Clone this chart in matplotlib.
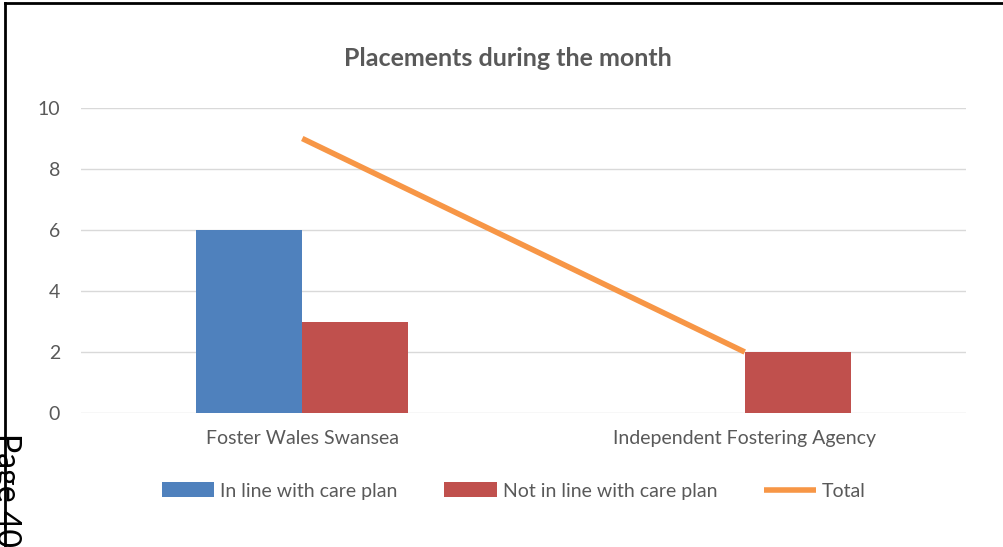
import matplotlib
matplotlib.use("Agg")
import matplotlib.pyplot as plt
from matplotlib.lines import Line2D
import numpy as np

categories = ["Foster Wales Swansea", "Independent Fostering Agency"]
in_line = [6, 0]
not_in_line = [3, 2]
total = [9, 2]
yticks = [0, 2, 4, 6, 8, 10]

plt.rcParams['font.family'] = ['Lato', 'DejaVu Sans']
W, H = 1004, 547
fig = plt.figure(figsize=(W/100, H/100), dpi=100)
ax = fig.add_axes([81/W, (H-413)/H, (966-81)/W, (413-108)/H])

x = np.arange(len(categories))
bw = 0.24
b1 = ax.bar(x - bw/2, in_line, bw, color="#4f81bd", label="In line with care plan", zorder=3)
b2 = ax.bar(x + bw/2, not_in_line, bw, color="#c0504d", label="Not in line with care plan", zorder=3)
l1, = ax.plot(x, total, color="#f79646", lw=4, label="Total", zorder=4, solid_capstyle="butt")

ax.set_xlim(-0.5, 1.5)
ax.set_ylim(0, 10)
ax.set_yticks(yticks)
ax.set_xticks(x)
ax.set_xticklabels(categories)
ax.tick_params(axis='both', length=0, labelsize=14, colors="#595959")
ax.tick_params(axis='y', pad=15)
ax.tick_params(axis='x', pad=12)
ax.grid(axis='y', color="#d9d9d9", lw=1, zorder=0)
for s in ax.spines.values():
    s.set_visible(False)

fig.text(508/W, (H-58)/H, "Placements during the month", ha='center', va='center',
         fontsize=18, fontweight='bold', color="#595959")

leg = fig.legend(handles=[b1, b2, l1], loc='center', bbox_to_anchor=(514/W, (H-491)/H), ncol=3,
                 frameon=False, fontsize=14, handlelength=2.7, handleheight=0.8, handletextpad=0.3,
                 columnspacing=2.4, labelcolor="#595959")

# page border
fig.add_artist(Line2D([4.5/W, 4.5/W], [0, 1 - 3/H], color='black', lw=2, transform=fig.transFigure))
fig.add_artist(Line2D([4.5/W, 1], [1 - 3/H, 1 - 3/H], color='black', lw=2, transform=fig.transFigure))
fig.text(6/W, (H-433)/H, "Page 40", rotation=270, ha='center', va='top', fontsize=23, color='black')

fig.savefig("out.png", dpi=100)
